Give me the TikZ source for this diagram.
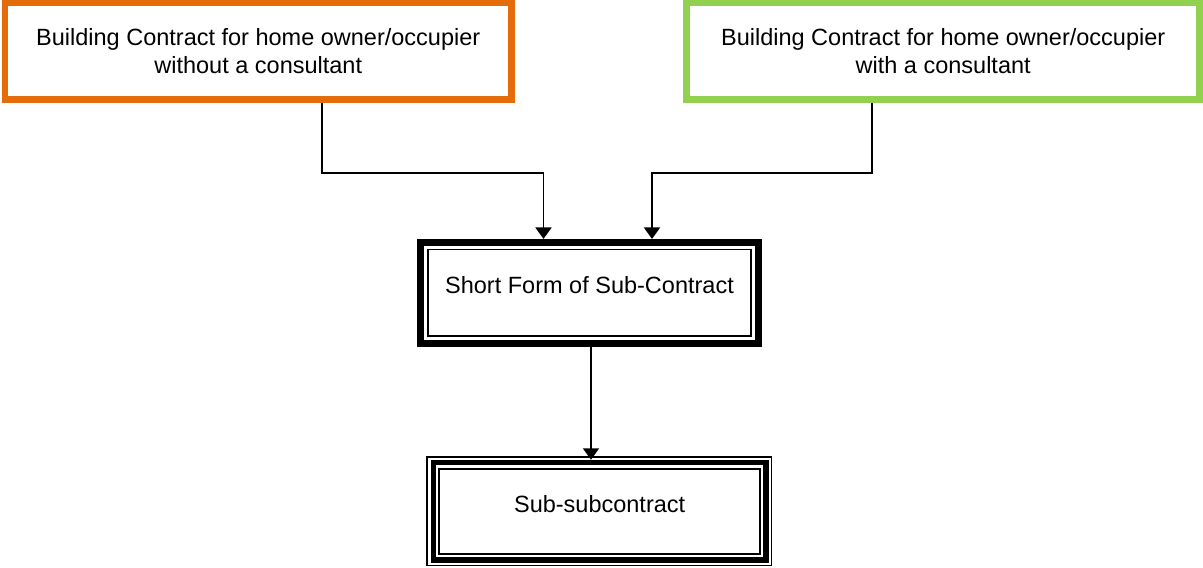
\documentclass[tikz,border=0pt]{standalone}
\usepackage{fontspec}
\setmainfont{Liberation Sans}
\usetikzlibrary{arrows.meta}
\definecolor{boxorange}{HTML}{E46C0A}
\definecolor{boxgreen}{HTML}{92D050}
\begin{document}
\begin{tikzpicture}[x=1pt,y=-1pt,
  every node/.style={font=\fontsize{23.5}{27.3}\selectfont, inner sep=0pt, align=center},
  topbox/.style={draw, line width=6.5pt, rectangle, minimum height=96.5pt},
  midbox/.style={draw=black, line width=7.5pt, minimum width=338pt, minimum height=101pt,
                 text height=17.2pt, text depth=17.6pt},
  botbox/.style={draw=black, line width=5.5pt, minimum width=332.3pt, minimum height=97.3pt,
                 text height=17.2pt, text depth=13.6pt},
  thinline/.style={draw=black, line width=1.8pt},
  conn/.style={draw=black, line width=1.9pt},
  arr/.style={conn, -{Triangle[width=16pt,length=11.5pt]}}
]
\useasboundingbox (0,0) rectangle (1203,568);
\fill[white] (0,0) rectangle (1203,568);

\node[topbox, draw=boxorange, minimum width=506.5pt] (own) at (258.25,51.15)
  {Building Contract for home owner/occupier\\without a consultant};
\node[topbox, draw=boxgreen, minimum width=513pt] (con) at (943.2,51.15)
  {Building Contract for home owner/occupier\\with a consultant};

\node[midbox] (mid) at (589.5,293.2) {Short Form of Sub-Contract};
\draw[thinline] ([shift={(-161.5,-43.7)}]mid.center) rectangle ([shift={(161.7,42.6)}]mid.center);

\node[botbox] (bot) at (599.65,511.15) {Sub-subcontract};
\draw[thinline] ([shift={(-172.85,-54.35)}]bot.center) rectangle ([shift={(171.85,54.35)}]bot.center);
\draw[thinline] ([shift={(-160.45,-41.95)}]bot.center) rectangle ([shift={(160.55,42.65)}]bot.center);

\draw[arr] ([xshift=63.75pt]own.south) -- ++(0,70.3) -| ([xshift=-46pt]mid.north);
\draw[arr] ([xshift=-71.2pt]con.south) -- ++(0,70.3) -| ([xshift=62.5pt]mid.north);
\draw[arr] ([xshift=1.5pt]mid.south) -- ([xshift=1.5pt]mid.south |- bot.north);
\end{tikzpicture}
\end{document}
